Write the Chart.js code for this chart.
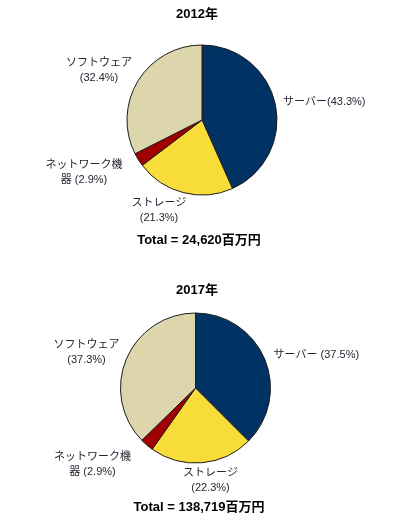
<!DOCTYPE html>
<html>
<head>
<meta charset="utf-8">
<script src="https://cdn.jsdelivr.net/npm/chart.js@4"></script>
<style>
  html, body { margin: 0; padding: 0; background: #fff; }
  body { width: 409px; height: 520px; position: relative; overflow: hidden; }
  .box { position: absolute; left: 0; width: 409px; height: 260px; }
  #b1 { top: 0; }
  #b2 { top: 260px; }
</style>
</head>
<body>
<div class="box" id="b1"><canvas id="c1" width="409" height="260"></canvas></div>
<div class="box" id="b2"><canvas id="c2" width="409" height="260"></canvas></div>
<script>
// ---- data ----
const categories = ['サーバー', 'ストレージ', 'ネットワーク機器', 'ソフトウェア'];
const years = ['2012年', '2017年'];
const values2012 = [43.3, 21.3, 2.9, 32.4];
const values2017 = [37.5, 22.3, 2.9, 37.3];
const totals = [24620, 138719];
const totalUnit = '百万円';
const sliceColors = ['#003363', '#F8DD3A', '#A00000', '#DDD6AC'];

const LATIN_CJK = '"Liberation Sans", Arial, "Noto Sans CJK JP", sans-serif';

// label line builders (text only; derived from categories and values)
function labelLines(idx, v, yearIdx) {
  const pct = '(' + v.toFixed(1) + '%)';
  if (idx === 0) return [categories[0] + (yearIdx === 0 ? '' : ' ') + pct];
  if (idx === 2) {
    const name = categories[2];
    return [name.slice(0, name.length - 1), name.slice(-1) + ' ' + pct];
  }
  return [categories[idx], pct];
}

const labelPlugin = {
  id: 'pieLabels',
  afterDraw(chart, args, opts) {
    const ctx = chart.ctx;
    const arc0 = chart.getDatasetMeta(0).data[0];
    const cx = arc0.x, cy = arc0.y;
    const vals = chart.data.datasets[0].data;
    ctx.save();
    ctx.textBaseline = 'middle';
    // slice labels
    ctx.font = '11px ' + LATIN_CJK;
    ctx.fillStyle = '#262633';
    vals.forEach((v, i) => {
      const p = opts.placement[i];
      const lines = labelLines(i, v, opts.yearIdx);
      ctx.textAlign = p.align;
      lines.forEach((ln, k) => {
        ctx.fillText(ln, cx + p.dx, cy + p.dy + k * 15);
      });
    });
    // title & total
    ctx.fillStyle = '#000';
    ctx.textAlign = 'center';
    ctx.font = 'bold 13px ' + LATIN_CJK;
    ctx.fillText(years[opts.yearIdx], opts.titleX, opts.titleY);
    ctx.fillText('Total = ' + totals[opts.yearIdx].toLocaleString('en-US') + totalUnit, opts.totalX, opts.totalY);
    ctx.restore();
  }
};

function makeChart(id, values, yearIdx, padding, pluginOpts) {
  return new Chart(document.getElementById(id), {
    type: 'pie',
    data: {
      labels: categories,
      datasets: [{
        data: values,
        backgroundColor: sliceColors,
        borderColor: '#1c1c1c',
        borderWidth: 1,
        hoverOffset: 0
      }]
    },
    options: {
      responsive: false,
      animation: false,
      devicePixelRatio: 1,
      radius: 75,
      layout: { padding: padding },
      events: [],
      plugins: {
        legend: { display: false },
        tooltip: { enabled: false },
        title: { display: false },
        pieLabels: Object.assign({ yearIdx: yearIdx }, pluginOpts)
      }
    },
    plugins: [labelPlugin]
  });
}

makeChart('c1', values2012, 0,
  { left: 102, right: 107, top: 30, bottom: 50 },
  {
    titleX: 197, titleY: 14, totalX: 199, totalY: 240,
    placement: [
      { dx: 81, dy: -18, align: 'left' },
      { dx: -43, dy: 83, align: 'center' },
      { dx: -118, dy: 45, align: 'center' },
      { dx: -103, dy: -57, align: 'center' }
    ]
  });

makeChart('c2', values2017, 1,
  { left: 97, right: 115, top: 38, bottom: 42 },
  {
    titleX: 197, titleY: 30, totalX: 199, totalY: 247,
    placement: [
      { dx: 78, dy: -33, align: 'left' },
      { dx: 15, dy: 85, align: 'center' },
      { dx: -103, dy: 69, align: 'center' },
      { dx: -109, dy: -43, align: 'center' }
    ]
  });
</script>
</body>
</html>
